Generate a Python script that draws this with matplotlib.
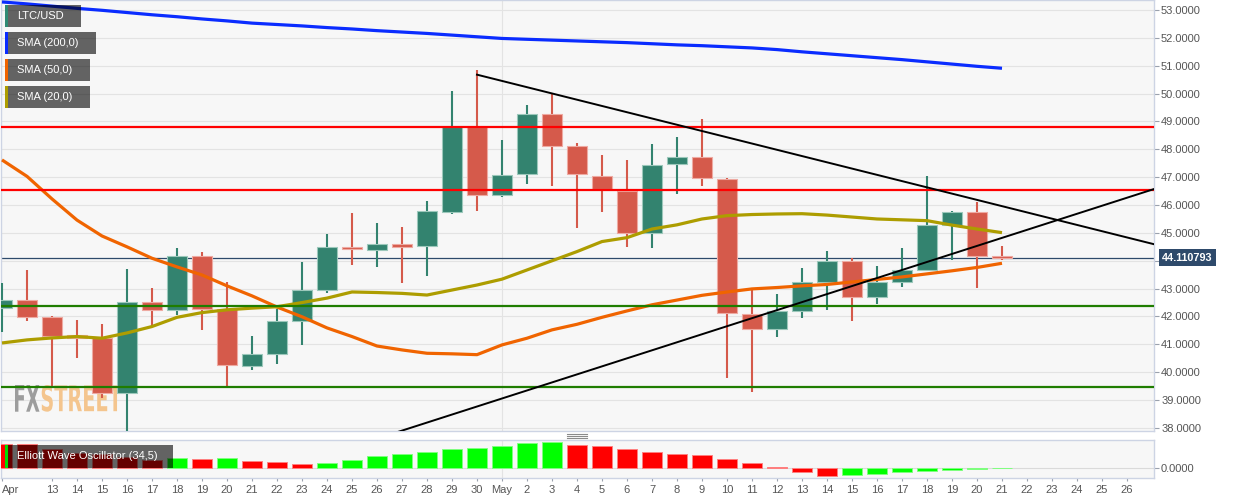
import matplotlib
matplotlib.use("Agg")
import matplotlib.pyplot as plt
import matplotlib.dates as mdates
import numpy as np
import pandas as pd
from matplotlib.font_manager import FontProperties
from matplotlib.lines import Line2D
from matplotlib.patches import PathPatch, Rectangle
from matplotlib.textpath import TextPath
from matplotlib.ticker import FuncFormatter, FormatStrFormatter
from matplotlib.transforms import Affine2D

plt.rcParams["font.family"] = ["Liberation Sans", "DejaVu Sans"]

W, H = 1244, 503

# --- data (LTC/USD daily) ---
dates = pd.date_range("2020-04-11", "2020-05-21", freq="D")
opens = [42.30, 42.59, 41.99, 41.34, 41.22, 39.25, 42.53, 42.24, 44.17, 42.26,
         40.24, 40.65, 41.85, 42.95, 44.51, 44.39, 44.60, 44.53, 45.76, 48.81,
         46.36, 47.10, 49.26, 48.12, 47.05, 46.52, 45.01, 47.46, 47.71, 46.95,
         42.09, 41.54, 42.21, 43.23, 44.00, 42.69, 43.23, 43.67, 45.29, 45.74, 44.17]
highs = [43.20, 43.67, 42.00, 41.88, 41.73, 43.71, 43.01, 44.45, 44.31, 43.25,
         41.30, 42.26, 43.95, 44.96, 45.70, 45.35, 45.22, 46.15, 50.09, 50.85,
         48.34, 49.59, 50.01, 48.22, 47.80, 47.62, 48.19, 48.45, 49.09, 46.96,
         42.95, 42.81, 43.75, 44.36, 44.09, 43.81, 44.47, 47.04, 45.79, 46.10, 44.53]
lows = [41.45, 41.85, 39.48, 40.52, 39.07, 37.90, 41.64, 42.06, 41.52, 39.48,
        40.08, 40.30, 40.98, 42.86, 43.85, 43.79, 43.19, 43.45, 45.68, 45.79,
        46.30, 46.76, 46.68, 45.19, 45.76, 44.51, 44.45, 46.39, 46.68, 39.78,
        39.30, 41.26, 41.96, 42.24, 41.84, 42.45, 43.07, 43.67, 44.03, 43.01, 44.03]
closes = [42.59, 41.99, 41.30, 41.23, 39.25, 42.53, 42.24, 44.17, 42.26, 40.26,
          40.65, 41.84, 42.95, 44.51, 44.41, 44.60, 44.51, 45.79, 48.81, 46.36,
          47.08, 49.26, 48.12, 47.10, 46.58, 45.01, 47.44, 47.74, 46.96, 42.12,
          41.54, 42.20, 43.23, 44.00, 42.69, 43.23, 43.67, 45.29, 45.74, 44.17, 44.11]
last_price = 44.110793

sma20 = [41.05, 41.16, 41.23, 41.28, 41.22, 41.41, 41.64, 41.97, 42.14, 42.24,
         42.30, 42.35, 42.50, 42.66, 42.88, 42.86, 42.83, 42.77, 42.95, 43.13,
         43.34, 43.67, 44.00, 44.33, 44.69, 44.83, 45.14, 45.29, 45.50, 45.62,
         45.66, 45.68, 45.69, 45.64, 45.57, 45.50, 45.47, 45.44, 45.28, 45.14, 45.01]
sma50 = [47.62, 47.03, 46.22, 45.46, 44.89, 44.50, 44.09, 43.78, 43.49, 43.10,
         42.74, 42.34, 41.99, 41.59, 41.28, 40.94, 40.80, 40.68, 40.66, 40.63,
         40.98, 41.22, 41.52, 41.72, 41.97, 42.20, 42.42, 42.59, 42.76, 42.88,
         42.99, 43.04, 43.10, 43.15, 43.24, 43.33, 43.42, 43.53, 43.64, 43.76, 43.91]
sma200 = [53.29, 53.22, 53.14, 53.06, 52.99, 52.91, 52.83, 52.76, 52.68, 52.61,
          52.53, 52.48, 52.43, 52.37, 52.32, 52.26, 52.21, 52.16, 52.10, 52.04,
          51.98, 51.95, 51.92, 51.89, 51.86, 51.83, 51.79, 51.75, 51.72, 51.68,
          51.64, 51.58, 51.50, 51.43, 51.36, 51.29, 51.22, 51.14, 51.06, 50.98, 50.91]

# Elliott Wave Oscillator (34,5)
ewo = [2.40, 2.33, 1.90, 1.50, 1.33, 1.10, 0.77, 0.97, 0.92, 0.94,
       0.63, 0.53, 0.33, 0.47, 0.77, 1.17, 1.37, 1.57, 1.90, 2.00,
       2.17, 2.47, 2.57, 2.27, 2.17, 1.83, 1.53, 1.37, 1.27, 0.83,
       0.50, 0.04, -0.47, -0.80, -0.73, -0.60, -0.47, -0.33, -0.23, -0.10, -0.03]

resistance = [48.81, 46.55]
support = [42.38, 39.48]
# trend lines: (date, price) anchors
trend_down = (["2020-04-30 00:00", "2020-05-27 02:24"], [50.68, 44.59])
trend_up = (["2020-04-26 12:00", "2020-05-27 02:24"], [37.76, 46.58])

axis_dates = pd.date_range("2020-04-11", "2020-05-26", freq="D")

# --- colours ---
UP, DOWN = "#33836f", "#d55a4b"
UP_EDGE, DOWN_EDGE = "#9cc8bb", "#eeaaa2"
BG = "#f7f7f7"
GRID = "#e3e3e3"
SPINE = "#cdd4e4"
INK = "#555555"
NAVY = "#2e4a6b"

fig = plt.figure(figsize=(W / 100, H / 100), dpi=100)
fig.patch.set_facecolor("white")
ax = fig.add_axes([0.5 / W, 1 - 431 / H, 1153.5 / W, 431 / H])
ax2 = fig.add_axes([0.5 / W, 1 - 477.7 / H, 1153.5 / W, 37.7 / H])

x = mdates.date2num(dates.to_pydatetime())
o, h, l, c = map(np.asarray, (opens, highs, lows, closes))
up = c >= o

may1 = mdates.date2num(pd.Timestamp("2020-05-01").to_pydatetime())
xlim = (may1 - 20.06, may1 + 26.08)

for a in (ax, ax2):
    a.set_facecolor(BG)
    for s in a.spines.values():
        s.set_color(SPINE)
        s.set_linewidth(1.0)
    a.axvline(may1, color=GRID, lw=0.8, zorder=0.5)
    a.set_xlim(*xlim)
    a.yaxis.tick_right()
    a.yaxis.set_major_formatter(FormatStrFormatter("%.4f"))
    a.tick_params(axis="y", length=3.6, width=0.8, color="#9aa1ad",
                  labelsize=8, labelcolor=INK, pad=1.5)

# watermark
wm_prop = FontProperties(family="DejaVu Sans", weight="bold")


def watermark(word, x0, x1, top, bottom, color):
    tp = TextPath((0, 0), word, size=20, prop=wm_prop)
    ext = tp.get_extents()
    tr = (Affine2D().translate(-ext.x0, -ext.y0)
          .scale((x1 - x0) / ext.width, (bottom - top) / ext.height)
          .translate(x0, H - bottom))
    ax.add_patch(PathPatch(tp, transform=tr, fc=color, ec="none", zorder=1.5))


watermark("FX", 15, 39.5, 385, 411.7, "#9d9d9d")
watermark("STREET", 41.7, 121.7, 385, 411.7, "#f4c58e")

# price line
ax.axhline(last_price, color=NAVY, lw=0.9, zorder=2)

# candles
ax.vlines(x, l, h, colors=np.where(up, UP, DOWN), lw=1.5, zorder=3)
ax.bar(x, np.abs(c - o), bottom=np.minimum(o, c), width=0.78,
       color=np.where(up, UP, DOWN), edgecolor=np.where(up, UP_EDGE, DOWN_EDGE),
       linewidth=0.8, zorder=4)

# moving averages
ax.plot(x, sma200, color="#0a2cff", lw=2.3, zorder=5, solid_capstyle="butt")
ax.plot(x, sma50, color="#f06400", lw=2.3, zorder=5, solid_capstyle="butt")
ax.plot(x, sma20, color="#ad9d00", lw=2.3, zorder=5, solid_capstyle="butt")

# levels
for lvl in resistance:
    ax.axhline(lvl, color="#ff0000", lw=1.6, zorder=6)
for lvl in support:
    ax.axhline(lvl, color="#1f7d00", lw=1.6, zorder=6)

for tl in (trend_down, trend_up):
    tx = mdates.date2num(pd.to_datetime(tl[0], format="%Y-%m-%d %H:%M").to_pydatetime())
    ax.plot(tx, tl[1], color="black", lw=1.4, zorder=6)

ax.set_ylim(37.89, 53.36)
ax.set_yticks(np.arange(38, 54))
# the price tag covers the label nearest the last price
ax.yaxis.set_major_formatter(FuncFormatter(
    lambda v, pos: "" if abs(v - last_price) < 0.5 else f"{v:.4f}"))
ax.grid(axis="y", color=GRID, lw=0.8)
ax.set_axisbelow(True)
ax.tick_params(axis="x", bottom=False, labelbottom=False)
ax.set_xlim(*xlim)

ax.annotate(f"{last_price:.6f}", xy=(1, last_price),
            xycoords=("axes fraction", "data"), xytext=(8, 0),
            textcoords="offset pixels", ha="left", va="center", fontsize=7.8,
            fontweight="bold", color="white", annotation_clip=False,
            bbox=dict(boxstyle="square,pad=0.3", fc=NAVY, ec="none"))

# oscillator
ewo_arr = np.asarray(ewo)
rising = np.diff(np.concatenate([[np.inf], ewo_arr])) > 0
ax2.bar(x, ewo_arr, width=0.8, color=np.where(rising, "#00ff00", "#ff0000"),
        edgecolor=np.where(rising, "#80ff80", "#ff8080"), linewidth=0.7, zorder=3)
ax2.axhline(0, color="#dadada", lw=0.8, zorder=1)
ax2.set_ylim(-1.0, 2.77)
ax2.set_yticks([0])

tick_dates = [d for d in axis_dates if d.day != 12 or d.month != 4]
tick_x = mdates.date2num([d.to_pydatetime() for d in tick_dates])
tick_labels = []
for i, d in enumerate(tick_dates):
    if i == 0 or d.day == 1:
        tick_labels.append(d.strftime("%b"))
    else:
        tick_labels.append(str(d.day))
ax2.set_xticks(tick_x)
ax2.set_xticklabels(tick_labels)
ax2.tick_params(axis="x", length=2.5, width=0.8, color="#9aa1ad",
                labelsize=8, labelcolor=INK, pad=3)
ax2.get_xticklabels()[0].set_ha("left")
ax2.set_xlim(*xlim)


# legend tags
def tag(x0, y0, w, hh, stripe, text):
    fig.add_artist(Rectangle((x0 / W, 1 - (y0 + hh) / H), w / W, hh / H,
                             transform=fig.transFigure, fc="black", alpha=0.6,
                             ec="none", zorder=10))
    fig.add_artist(Rectangle((x0 / W, 1 - (y0 + hh) / H), 2.7 / W, hh / H,
                             transform=fig.transFigure, fc=stripe, ec="none",
                             zorder=11))
    fig.text(17 / W, 1 - (y0 + hh / 2) / H, text, color="white", fontsize=8,
             va="center", ha="left", zorder=12)


tag(5, 5, 76, 22, "#2f8a74", "LTC/USD")
tag(5, 32, 91, 22, "#0a2cff", "SMA (200,0)")
tag(5, 59, 85, 22, "#f06400", "SMA (50,0)")
tag(5, 86, 85, 22, "#ad9d00", "SMA (20,0)")
tag(5, 445, 168, 22.7, "#00dd00", "Elliott Wave Oscillator (34,5)")

# panel resize handle
for yy in (434, 436, 438):
    fig.add_artist(Line2D([567 / W, 587 / W], [1 - yy / H] * 2,
                          transform=fig.transFigure, color="#8a8a8a", lw=0.8))

fig.savefig("out.png", dpi=100)
